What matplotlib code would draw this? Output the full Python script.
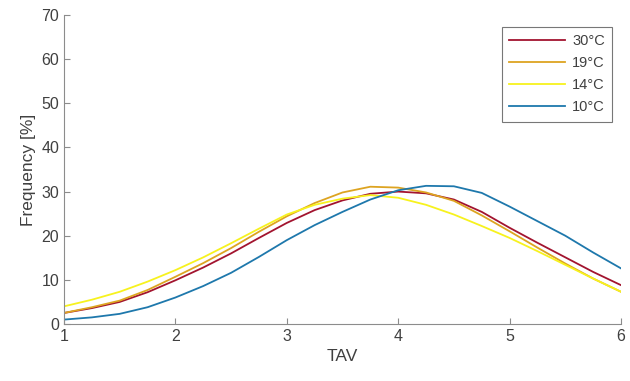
import matplotlib
matplotlib.use("Agg")
import matplotlib.pyplot as plt

plt.rcParams['font.family'] = ['Liberation Sans', 'DejaVu Sans']

# TAV values where curves were read
tav = [1, 1.25, 1.5, 1.75, 2, 2.25, 2.5, 2.75, 3, 3.25, 3.5,
       3.75, 4, 4.25, 4.5, 4.75, 5, 5.25, 5.5, 5.75, 6]

freq_30 = [2.5, 3.6, 5.0, 7.2, 9.9, 12.8, 16.0, 19.5, 22.9, 25.8, 28.0,
           29.5, 30.0, 29.6, 28.2, 25.4, 21.8, 18.4, 15.1, 11.8, 8.8]
freq_19 = [2.5, 3.8, 5.3, 7.7, 10.7, 13.8, 17.2, 20.9, 24.4, 27.4, 29.8,
           31.1, 30.9, 29.8, 27.9, 24.6, 21.0, 17.3, 13.7, 10.3, 7.3]
freq_14 = [4.0, 5.5, 7.3, 9.6, 12.2, 15.1, 18.3, 21.6, 24.8, 27.0, 28.4,
           29.2, 28.6, 27.0, 24.8, 22.2, 19.5, 16.5, 13.4, 10.3, 7.3]
freq_10 = [1.0, 1.5, 2.3, 3.8, 6.0, 8.6, 11.6, 15.2, 19.0, 22.4, 25.4,
           28.2, 30.3, 31.3, 31.2, 29.7, 26.6, 23.3, 20.0, 16.2, 12.6]

labels = ['30°C', '19°C', '14°C', '10°C']
colors = ['#A2142F', '#DDA421', '#F7F21E', '#1E78AC']

fig = plt.figure(figsize=(6.3, 3.81), dpi=100)
ax = fig.add_axes([0.1016, 0.1496, 0.8841, 0.811])

for y, lab, c in zip([freq_30, freq_19, freq_14, freq_10], labels, colors):
    ax.plot(tav, y, color=c, lw=1.3, label=lab)

ax.set_xlim(1, 6)
ax.set_ylim(0, 70)
ax.set_xticks([1, 2, 3, 4, 5, 6])
ax.set_yticks(range(0, 71, 10))
ax.spines['top'].set_visible(False)
ax.spines['right'].set_visible(False)
for s in ['left', 'bottom']:
    ax.spines[s].set_color('#8c8c8c')
ax.tick_params(direction='in', colors='#8c8c8c', labelcolor='#404040',
               labelsize=11.5, length=4)
ax.set_xlabel('TAV', fontsize=12.5, color='#404040')
ax.set_ylabel('Frequency [%]', fontsize=12.5, color='#404040')

leg = ax.legend(loc='upper right', bbox_to_anchor=(0.997, 0.985), fontsize=10.5,
                handlelength=3.8, handletextpad=0.5, frameon=True, fancybox=False,
                borderpad=0.5, labelspacing=0.55)
leg.get_frame().set_edgecolor('#555555')
leg.get_frame().set_linewidth(0.8)
for t in leg.get_texts():
    t.set_color('#404040')

fig.savefig('out.png', dpi=100)
